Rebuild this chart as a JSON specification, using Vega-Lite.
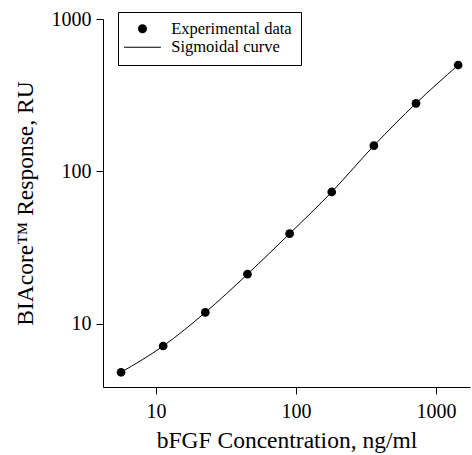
{
  "$schema": "https://vega.github.io/schema/vega-lite/v6.json",
  "width": 367,
  "height": 368,
  "autosize": {"type": "none"},
  "padding": {"left": 103, "top": 19, "right": 2, "bottom": 68},
  "background": "white",
  "config": {
    "font": "Liberation Serif",
    "view": {"stroke": null},
    "axis": {
      "grid": false,
      "domainColor": "black",
      "domainWidth": 1,
      "tickColor": "black",
      "tickWidth": 1,
      "tickSize": 7,
      "labelFont": "Liberation Serif",
      "labelFontSize": 20,
      "labelColor": "black",
      "titleFont": "Liberation Serif",
      "titleFontSize": 23.5,
      "titleFontWeight": "normal",
      "titleColor": "black"
    }
  },
  "data": {
    "values": [
      {"conc": 5.625, "resp": 4.82, "series": "Experimental data"},
      {"conc": 11.25, "resp": 7.17, "series": "Experimental data"},
      {"conc": 22.5, "resp": 11.9, "series": "Experimental data"},
      {"conc": 45, "resp": 21.2, "series": "Experimental data"},
      {"conc": 90, "resp": 39.1, "series": "Experimental data"},
      {"conc": 180, "resp": 73.4, "series": "Experimental data"},
      {"conc": 360, "resp": 147.6, "series": "Experimental data"},
      {"conc": 720, "resp": 280, "series": "Experimental data"},
      {"conc": 1440, "resp": 499, "series": "Experimental data"}
    ]
  },
  "layer": [
    {
      "mark": {"type": "line", "color": "black", "strokeWidth": 1, "interpolate": "monotone", "clip": false},
      "encoding": {
        "x": {"field": "conc", "type": "quantitative"},
        "y": {"field": "resp", "type": "quantitative"}
      }
    },
    {
      "mark": {"type": "point", "filled": true, "color": "black", "size": 76, "opacity": 1},
      "encoding": {
        "x": {
          "field": "conc",
          "type": "quantitative",
          "scale": {"type": "log", "domain": [4.18, 1750], "nice": false},
          "axis": {"values": [10, 100, 1000], "format": "d", "labelPadding": 7, "titlePadding": 7},
          "title": "bFGF Concentration, ng/ml"
        },
        "y": {
          "field": "resp",
          "type": "quantitative",
          "scale": {"type": "log", "domain": [3.86, 1000], "nice": false},
          "axis": {"values": [10, 100, 1000], "format": "d", "labelPadding": 5, "titlePadding": 14},
          "title": "BIAcore™ Response, RU"
        },
        "shape": {
          "field": "series",
          "type": "nominal",
          "scale": {"domain": ["Experimental data", "Sigmoidal curve"], "range": ["circle", "M-4.1,-0.11H4.1V0.11H-4.1Z"]},
          "legend": {
            "title": null,
            "orient": "none",
            "legendX": 15,
            "legendY": -7,
            "strokeColor": "black",
            "padding": 8.5,
            "labelFont": "Liberation Serif",
            "labelFontSize": 16.5,
            "labelColor": "black",
            "labelOffset": 20.5,
            "symbolSize": 81,
            "symbolFillColor": "black",
            "symbolStrokeColor": "black",
            "symbolStrokeWidth": 0,
            "rowPadding": 1.5,
            "symbolOffset": 7.7
          }
        }
      }
    }
  ]
}
